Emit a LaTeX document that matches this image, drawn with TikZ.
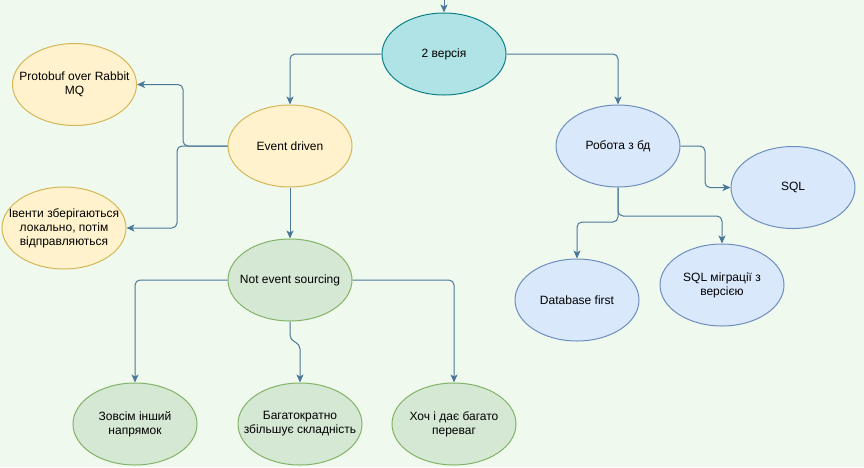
\documentclass[tikz,border=0pt]{standalone}
\usepackage{fontspec}
\setmainfont{Liberation Sans}
\usetikzlibrary{shapes.geometric,arrows.meta}
\definecolor{bg}{HTML}{F0F9EE}
\definecolor{edge}{HTML}{4A7898}
\definecolor{tealf}{HTML}{B0E3E6}\definecolor{teald}{HTML}{0E8088}
\definecolor{yelf}{HTML}{FFF2CC}\definecolor{yeld}{HTML}{D6B656}
\definecolor{grnf}{HTML}{D5E8D4}\definecolor{grnd}{HTML}{82B366}
\definecolor{bluf}{HTML}{DAE8FC}\definecolor{blud}{HTML}{6C8EBF}
\tikzset{
  lbl/.style={align=center,font=\fontsize{12}{14}\selectfont,inner sep=0pt},
  oval/.style={ellipse,minimum width=124pt,minimum height=82pt,inner sep=0pt,
    line width=1pt},
  tealn/.style={oval,draw=teald,fill=tealf},
  yeln/.style={oval,draw=yeld,fill=yelf},
  grnn/.style={oval,draw=grnd,fill=grnf},
  blun/.style={oval,draw=blud,fill=bluf},
  conn/.style={draw=edge,line width=1pt,rounded corners=5pt,
    -{Stealth[length=8pt,width=7pt,inset=2pt]}},
}
\begin{document}
\begin{tikzpicture}[x=1pt,y=-1pt]
\fill[bg] (0,0) rectangle (864,467);
\useasboundingbox (0,0) rectangle (864,467);
\node[tealn,label={[lbl]center:2 версія}] (v2) at (444,54) {};
\node[yeln,label={[lbl]center:Event driven}] (ed) at (290,146) {};
\node[yeln,label={[lbl]center:{Protobuf over Rabbit\\MQ}}] (pb) at (74.5,84.5) {};
\node[yeln,label={[lbl]center:{Івенти зберігаються\\локально, потім\\відправляються}}] (iv) at (64,228) {};
\node[grnn,label={[lbl]center:Not event sourcing}] (nes) at (290,280) {};
\node[grnn,label={[lbl]center:{Зовсім інший\\напрямок}}] (zi) at (135,424) {};
\node[grnn,label={[lbl]center:{Багатократно\\збільшує складність}}] (bs) at (300,424) {};
\node[grnn,label={[lbl]center:{Хоч і дає багато\\переваг}}] (kh) at (454,424) {};
\node[blun,label={[lbl]center:Робота з бд}] (rb) at (618,146) {};
\node[blun,label={[lbl]center:SQL}] (sql) at (793,187.5) {};
\node[blun,label={[lbl]center:Database first}] (dbf) at (577,300) {};
\node[blun,label={[lbl]center:{SQL міграції з\\версією}}] (mig) at (722,285) {};
\coordinate (top) at (444,0);
\draw[conn] (top) -- (v2.north);
\draw[conn] (v2.west) -| (ed.north);
\draw[conn] (v2.east) -| (rb.north);
\draw[conn] (ed.west) -- (183,146) |- (pb.east);
\draw[conn] (ed.west) -- (177,146) |- (iv.east);
\draw[conn] (ed.south) -- (nes.north);
\draw[conn] (nes.west) -| (zi.north);
\draw[conn] (nes.east) -| (kh.north);
\draw[conn] (nes.south) -- (290,340) -- (300,344) -- (bs.north);
\draw[conn] (rb.east) -- (705,146) |- (sql.west);
\draw[conn] (rb.south) -- (618,222) -| (dbf.north);
\draw[conn] (rb.south) -- (618,216) -| (mig.north);
\end{tikzpicture}
\end{document}
